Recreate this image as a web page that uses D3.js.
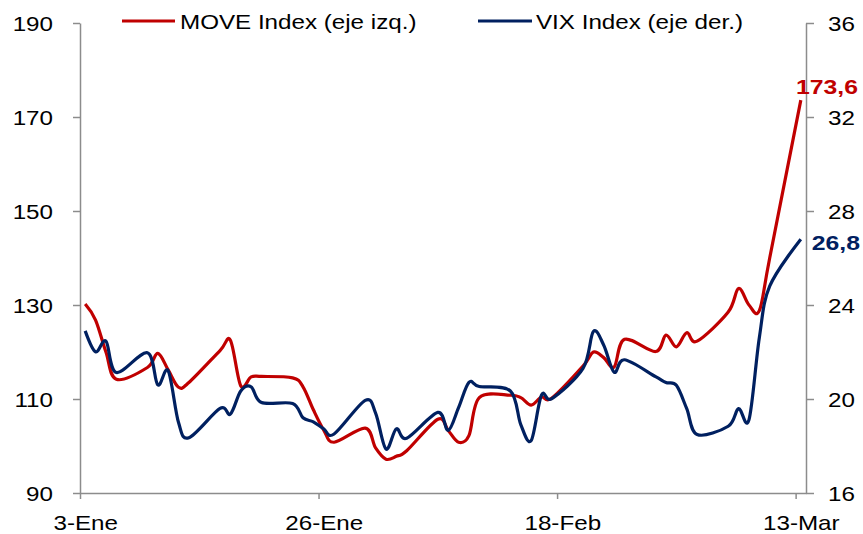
<!DOCTYPE html>
<html>
<head>
<meta charset="utf-8">
<script src="https://cdn.jsdelivr.net/npm/d3@7"></script>
<style>
  body { margin: 0; background: #fff; }
  svg { font-family: "Liberation Sans", Arial, sans-serif; }
  .axis path, .axis line { stroke: #8c8c8c; stroke-width: 1.5; }
  .axis text { fill: #000; font-size: 20.5px; }
</style>
</head>
<body>
<svg id="chart" width="863" height="534"></svg>
<script>
// Business days, 2023
const dates = [
    "2023-01-03","2023-01-04","2023-01-05","2023-01-06","2023-01-09","2023-01-10","2023-01-11",
    "2023-01-12","2023-01-13","2023-01-16","2023-01-17","2023-01-18","2023-01-19","2023-01-20",
    "2023-01-23","2023-01-24","2023-01-25","2023-01-26","2023-01-27","2023-01-30","2023-01-31",
    "2023-02-01","2023-02-02","2023-02-03","2023-02-06","2023-02-07","2023-02-08","2023-02-09",
    "2023-02-10","2023-02-13","2023-02-14","2023-02-15","2023-02-16","2023-02-17","2023-02-20",
    "2023-02-21","2023-02-22","2023-02-23","2023-02-24","2023-02-27","2023-02-28",
    "2023-03-01","2023-03-02","2023-03-03","2023-03-06","2023-03-07","2023-03-08","2023-03-09",
    "2023-03-10","2023-03-13"
];

const moveIndex = [
    130.2, 126.8, 120.0, 114.2, 116.7, 119.7, 116.2, 112.5, 113.5, 120.3, 122.5, 112.8, 114.7, 114.8,
    114.5, 112.6, 107.7, 103.4, 100.8, 103.8, 99.6,
    97.2, 97.8, 99.0, 105.7, 103.3, 100.8, 102.2, 110.3, 110.8, 110.3, 108.7, 110.4, 110.2, 117.0,
    120.0, 118.8, 116.8, 122.7, 120.1, 123.6,
    121.1, 124.1, 122.3, 128.5, 133.5, 130.0, 128.8, 140.0, 173.6
];

const vixIndex = [
    22.90, 22.01, 22.46, 21.13, 21.97, 20.60, 21.20, 19.00, 18.35, 19.60, 19.36, 20.34, 20.52, 19.85,
    19.81, 19.20, 19.03, 18.73, 18.51, 19.94, 19.40,
    17.87, 18.73, 18.33, 19.43, 18.66, 19.63, 20.71, 20.53, 20.34, 18.91, 18.23, 20.17, 20.02, 21.30,
    22.87, 22.29, 21.14, 21.67, 20.95, 20.70,
    20.58, 19.59, 18.49, 18.84, 19.59, 19.11, 22.61, 24.80, 26.80
];

const xTickDates = ["2023-01-03", "2023-01-26", "2023-02-18", "2023-03-13"];
const xTickLabels = ["3-Ene", "26-Ene", "18-Feb", "13-Mar"];
const leftTicks = [90, 110, 130, 150, 170, 190];
const rightTicks = [16, 20, 24, 28, 32, 36];
const seriesNames = ["MOVE Index (eje izq.)", "VIX Index (eje der.)"];
const lastLabels = ["173,6", "26,8"];

const red = "#c00000";
const navy = "#002060";
const stretch = 1.18;   // text in the picture is a bit wide

const svg = d3.select("#chart");
const parse = d3.timeParse("%Y-%m-%d");
const halfDay = 12 * 3600 * 1000;

const x = d3.scaleTime()
    .domain([parse("2023-01-03"), parse("2023-03-14")])
    .range([80, 806]);

const yL = d3.scaleLinear().domain([90, 190]).range([493, 23]);
const yR = d3.scaleLinear().domain([16, 36]).range([493, 23]);

// points sit in the middle of each day (Excel date axis)
const xMid = d => x(new Date(d.getTime() + halfDay));

const rows = dates.map((d, i) => ({ date: parse(d), move: moveIndex[i], vix: vixIndex[i] }));

// Axes
const xAxis = d3.axisBottom(x)
    .tickValues(xTickDates.map(parse))
    .tickSize(6)
    .tickSizeOuter(0)
    .tickFormat((d, i) => xTickLabels[i]);

const gx = svg.append("g")
    .attr("class", "axis")
    .attr("transform", "translate(0,493)")
    .call(xAxis);
gx.selectAll("text")
    .attr("y", 37)
    .attr("dy", null)
    .attr("x", (x(new Date(parse("2023-01-03").getTime() + halfDay)) - 80) / stretch)
    .attr("transform", `scale(${stretch},1)`);

const gl = svg.append("g")
    .attr("class", "axis")
    .attr("transform", "translate(80,0)")
    .call(d3.axisLeft(yL).tickValues(leftTicks).tickSize(7).tickSizeOuter(0));
gl.selectAll("text")
    .attr("x", -27 / stretch)
    .attr("dy", "0.36em")
    .attr("transform", `scale(${stretch},1)`);

const gr = svg.append("g")
    .attr("class", "axis")
    .attr("transform", "translate(806,0)")
    .call(d3.axisRight(yR).tickValues(rightTicks).tickSize(8).tickSizeOuter(0));
gr.selectAll("text")
    .attr("x", 22 / stretch)
    .attr("dy", "0.36em")
    .attr("transform", `scale(${stretch},1)`);

// Lines (Excel-style smoothing)
const curve = d3.curveCardinal.tension(0);

svg.append("path")
    .datum(rows)
    .attr("fill", "none")
    .attr("stroke", red)
    .attr("stroke-width", 3.2)
    .attr("d", d3.line().x(d => xMid(d.date)).y(d => yL(d.move)).curve(curve));

svg.append("path")
    .datum(rows)
    .attr("fill", "none")
    .attr("stroke", navy)
    .attr("stroke-width", 3.2)
    .attr("d", d3.line().x(d => xMid(d.date)).y(d => yR(d.vix)).curve(curve));

// Last value labels
const last = rows[rows.length - 1];
svg.append("text")
    .attr("transform", `translate(858,${yL(last.move) - 6}) scale(${stretch},1)`)
    .attr("text-anchor", "end")
    .attr("font-size", "21px")
    .attr("font-weight", "bold")
    .attr("fill", red)
    .text(lastLabels[0]);

svg.append("text")
    .attr("transform", `translate(860,${yR(last.vix) + 11}) scale(${stretch},1)`)
    .attr("text-anchor", "end")
    .attr("font-size", "21px")
    .attr("font-weight", "bold")
    .attr("fill", navy)
    .text(lastLabels[1]);

// Legend
const legend = [
    { name: seriesNames[0], color: red, x1: 122, x2: 175, tx: 180 },
    { name: seriesNames[1], color: navy, x1: 478, x2: 532, tx: 536 }
];
legend.forEach(l => {
    svg.append("line")
        .attr("x1", l.x1).attr("x2", l.x2)
        .attr("y1", 21).attr("y2", 21)
        .attr("stroke", l.color)
        .attr("stroke-width", 3.2);
    svg.append("text")
        .attr("transform", `translate(${l.tx},29) scale(${stretch},1)`)
        .attr("font-size", "20.5px")
        .attr("fill", "#000")
        .text(l.name);
});
</script>
</body>
</html>
